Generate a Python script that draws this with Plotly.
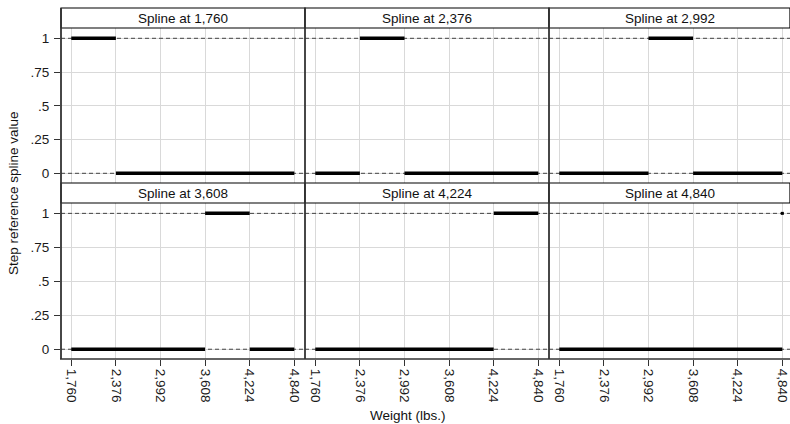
import plotly.graph_objects as go

# ---- data ----
knots = [1760, 2376, 2992, 3608, 4224, 4840]
knot_labels = ["1,760", "2,376", "2,992", "3,608", "4,224", "4,840"]
panel_titles = ["Spline at " + k for k in knot_labels]
y_ticks = [0, 0.25, 0.5, 0.75, 1]
y_ticklabels = ["0", ".25", ".5", ".75", "1"]
ref_levels = [0, 1]
x_title = "Weight (lbs.)"
y_title = "Step reference spline value"

W, H = 790, 424
FONT = "Liberation Sans, Arial, sans-serif"
FS = 13.5

# pixel geometry
col_px = [(61, 305), (305, 549), (549, 790)]
row_px = [(28, 183), (203, 359)]        # plot area top/bottom
strip_px = [(8, 28), (183, 203)]
LEFT_PAD = 10.3
SPAN_PX = 223.0
s = (knots[-1] - knots[0]) / SPAN_PX
Y_TOP = 1 + 10.3 / 135.0
Y_BOT = -9.7 / 135.0

def fx(px):
    return px / W

def fy(py):
    return 1 - py / H

fig = go.Figure()
shapes = []
annotations = []

for i, knot in enumerate(knots):
    r, c = divmod(i, 3)
    idx = i + 1
    xa = "x" if idx == 1 else f"x{idx}"
    ya = "y" if idx == 1 else f"y{idx}"
    xl = "xaxis" if idx == 1 else f"xaxis{idx}"
    yl = "yaxis" if idx == 1 else f"yaxis{idx}"
    c0, c1 = col_px[c]
    r0, r1 = row_px[r]
    wpx = c1 - c0
    xr = [knots[0] - LEFT_PAD * s, knots[0] + (wpx - LEFT_PAD) * s]

    fig.layout[xl] = dict(
        domain=[fx(c0), fx(c1)], range=xr, anchor=ya,
        tickmode="array", tickvals=knots, ticktext=knot_labels,
        showticklabels=(r == 1), ticks="outside" if r == 1 else "",
        ticklen=6, tickcolor="#333", tickangle=90,
        tickfont=dict(family=FONT, size=FS, color="#1a1a1a"),
        showgrid=True, gridcolor="#d9d9d9", gridwidth=1,
        zeroline=False, showline=False, fixedrange=True,
    )
    fig.layout[yl] = dict(
        domain=[fy(r1), fy(r0)], range=[Y_BOT, Y_TOP], anchor=xa,
        tickmode="array", tickvals=y_ticks, ticktext=y_ticklabels,
        showticklabels=(c == 0), ticks="outside" if c == 0 else "",
        ticklen=6, tickcolor="#333", ticklabelstandoff=2,
        tickfont=dict(family=FONT, size=FS, color="#1a1a1a"),
        showgrid=True, gridcolor="#d9d9d9", gridwidth=1,
        zeroline=False, showline=False, fixedrange=True,
    )

    # dashed reference lines at 0 and 1 (across the whole panel)
    for yv in ref_levels:
        fig.add_trace(go.Scatter(x=xr, y=[yv, yv], xaxis=xa, yaxis=ya,
                                 mode="lines",
                                 line=dict(color="#444", width=1, dash="4px,3px"),
                                 showlegend=False, hoverinfo="skip",
                                 cliponaxis=False))

    # step spline segments
    nxt = knots[i + 1] if i + 1 < len(knots) else knot
    xs, ys = [], []
    if knot > knots[0]:
        xs += [knots[0], knot, None]; ys += [0, 0, None]
    if nxt < knots[-1]:
        xs += [nxt, knots[-1], None]; ys += [0, 0, None]
    fig.add_trace(go.Scatter(x=xs, y=ys, xaxis=xa, yaxis=ya, mode="lines",
                             line=dict(color="black", width=3.5),
                             showlegend=False, hoverinfo="skip"))
    if nxt > knot:
        fig.add_trace(go.Scatter(x=[knot, nxt], y=[1, 1], xaxis=xa, yaxis=ya,
                                 mode="lines", line=dict(color="black", width=3.5),
                                 showlegend=False, hoverinfo="skip"))
    else:
        fig.add_trace(go.Scatter(x=[knot], y=[1], xaxis=xa, yaxis=ya,
                                 mode="markers",
                                 marker=dict(color="black", size=3, symbol="square"),
                                 showlegend=False, hoverinfo="skip"))

    # strip
    s0, s1 = strip_px[r]
    shapes.append(dict(type="rect", xref="paper", yref="paper",
                       x0=fx(c0), x1=fx(c1), y0=fy(s1), y1=fy(s0),
                       fillcolor="white", line=dict(color="black", width=1.2)))
    annotations.append(dict(text=panel_titles[i], xref="paper", yref="paper",
                            x=(fx(c0) + fx(c1)) / 2, y=(fy(s0) + fy(s1)) / 2,
                            xanchor="center", yanchor="middle", showarrow=False,
                            font=dict(family=FONT, size=FS, color="#111")))

# panel frame lines
for xp in (61, 305, 549):
    shapes.append(dict(type="line", xref="paper", yref="paper",
                       x0=fx(xp), x1=fx(xp), y0=fy(8), y1=fy(359),
                       line=dict(color="#333", width=1.8)))
shapes.append(dict(type="line", xref="paper", yref="paper",
                   x0=fx(60), x1=1, y0=fy(359), y1=fy(359),
                   line=dict(color="#333", width=1.5)))

annotations.append(dict(text=y_title, xref="paper", yref="paper",
                        x=fx(13), y=fy(193), textangle=-90,
                        xanchor="center", yanchor="middle", showarrow=False,
                        font=dict(family=FONT, size=FS, color="#111")))
annotations.append(dict(text=x_title, xref="paper", yref="paper",
                        x=fx(408), y=fy(415),
                        xanchor="center", yanchor="middle", showarrow=False,
                        font=dict(family=FONT, size=FS, color="#111")))

fig.update_layout(
    width=W, height=H, margin=dict(l=0, r=0, t=0, b=0),
    paper_bgcolor="white", plot_bgcolor="white",
    shapes=shapes, annotations=annotations, showlegend=False,
)

fig.write_html("out.html", config={"displayModeBar": False})
